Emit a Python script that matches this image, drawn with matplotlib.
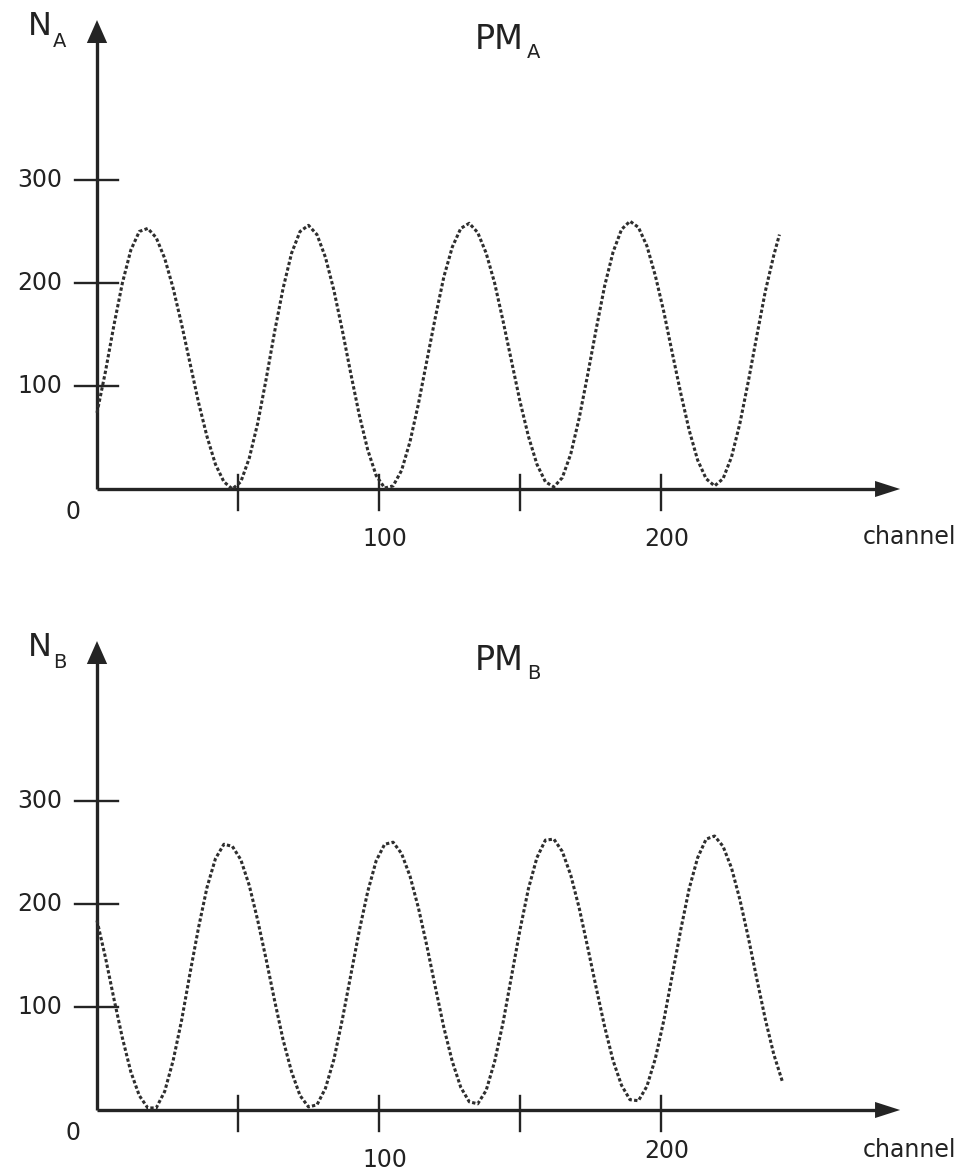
import matplotlib
matplotlib.use('Agg')
import matplotlib.pyplot as plt

# ---------------- data ----------------
top_channel = [0, 3, 6, 9, 12, 15, 18, 21, 24, 27, 30, 33, 36, 39, 42, 45, 48, 51, 54, 57,
               60, 63, 66, 69, 72, 75, 78, 81, 84, 87, 90, 93, 96, 99, 102, 105, 108, 111, 114, 117,
               120, 123, 126, 129, 132, 135, 138, 141, 144, 147, 150, 153, 156, 159, 162, 165, 168, 171, 174, 177,
               180, 183, 186, 189, 192, 195, 198, 201, 204, 207, 210, 213, 216, 219, 222, 225, 228, 231, 234, 237,
               240, 242]
top_counts = [74, 114, 159, 200, 232, 250, 253, 244, 224, 195, 160, 122, 84, 51, 24, 7, 0, 7, 30, 64,
              107, 153, 195, 229, 250, 256, 247, 225, 193, 154, 112, 72, 38, 13, 1, 3, 18, 46, 83, 125,
              167, 206, 235, 253, 258, 249, 229, 200, 163, 124, 85, 51, 24, 7, 2, 11, 34, 69, 111, 155,
              197, 230, 252, 260, 254, 236, 207, 172, 132, 93, 57, 28, 10, 3, 10, 31, 64, 105, 149, 192,
              227, 247]

bottom_channel = [0, 3, 6, 9, 12, 15, 18, 21, 24, 27, 30, 33, 36, 39, 42, 45, 48, 51, 54, 57,
                  60, 63, 66, 69, 72, 75, 78, 81, 84, 87, 90, 93, 96, 99, 102, 105, 108, 111, 114, 117,
                  120, 123, 126, 129, 132, 135, 138, 141, 144, 147, 150, 153, 156, 159, 162, 165, 168, 171, 174, 177,
                  180, 183, 186, 189, 192, 195, 198, 201, 204, 207, 210, 213, 216, 219, 222, 225, 228, 231, 234, 237,
                  240, 243]
bottom_counts = [184, 148, 108, 70, 37, 14, 2, 2, 18, 48, 87, 133, 177, 216, 244, 258, 256, 243, 218, 184,
                 146, 106, 68, 37, 14, 3, 5, 21, 49, 88, 131, 174, 212, 242, 258, 260, 249, 227, 196, 159,
                 119, 80, 47, 22, 8, 6, 19, 47, 85, 130, 175, 215, 245, 262, 263, 251, 228, 196, 158, 119,
                 81, 48, 24, 10, 9, 23, 50, 87, 131, 175, 215, 245, 263, 266, 256, 235, 204, 167, 127, 88,
                 54, 28]

y_ticks = [100, 200, 300]
y_tick_labels = ['100', '200', '300']
x_ticks = [50, 100, 150, 200]
x_label_ticks = [100, 200]
x_label_texts = ['100', '200']
panel_letters = ['A', 'B']
x_axis_label = 'channel'

# ---------------- layout ----------------
W, H = 963, 1173
PX_X = 2.82   # pixels per channel
PX_Y = 1.03   # pixels per count
ORIGIN_COL = 97
AXIS_COLOR = '#242424'
CURVE_COLOR = '#2e2e2e'
TEXT_COLOR = '#222222'

fig = plt.figure(figsize=(W / 100, H / 100), dpi=100)
fig.patch.set_facecolor('white')

panels = [
    dict(letter=panel_letters[0], ch=top_channel, counts=top_counts,
         origin_row=489, row_top=0, row_bot=600, xlab_y=[-49, -49], chan_y=-47),
    dict(letter=panel_letters[1], ch=bottom_channel, counts=bottom_counts,
         origin_row=1110, row_top=600, row_bot=H, xlab_y=[-49, -40], chan_y=-39),
]

for p in panels:
    ax = fig.add_axes([0, 1 - p['row_bot'] / H, 1, (p['row_bot'] - p['row_top']) / H])
    ax.set_xlim(-ORIGIN_COL / PX_X, (W - ORIGIN_COL) / PX_X)
    ax.set_ylim((p['origin_row'] - p['row_bot']) / PX_Y, (p['origin_row'] - p['row_top']) / PX_Y)
    ax.axis('off')

    # curve
    ax.plot(p['ch'], p['counts'], color=CURVE_COLOR, lw=2.2,
            linestyle=(0, (1.1, 0.75)), dash_capstyle='butt', zorder=3)

    # axes with arrows
    y_tip = 455.3
    x_tip = 284.8
    ax.plot([0, 0], [0, y_tip - 15], color=AXIS_COLOR, lw=2.4, solid_capstyle='butt', zorder=2)
    ax.plot([0, x_tip - 6], [0, 0], color=AXIS_COLOR, lw=2.4, solid_capstyle='butt', zorder=2)
    ax.fill([-3.6, 3.6, 0], [y_tip - 22.3, y_tip - 22.3, y_tip], color=AXIS_COLOR, lw=0, zorder=2)
    ax.fill([x_tip - 8.9, x_tip - 8.9, x_tip], [-7.8, 7.8, 0], color=AXIS_COLOR, lw=0, zorder=2)

    # ticks
    for yt, lab in zip(y_ticks, y_tick_labels):
        ax.plot([-7.8, 7.4], [yt, yt], color=AXIS_COLOR, lw=1.7, zorder=2)
        ax.text(-12.4, yt, lab, ha='right', va='center', fontsize=17, color=TEXT_COLOR)
    for xt in x_ticks:
        ax.plot([xt, xt], [-20.4, 13.6], color=AXIS_COLOR, lw=1.7, zorder=2)
    for xt, lab, yy in zip(x_label_ticks, x_label_texts, p['xlab_y']):
        ax.text(xt + 2, yy, lab, ha='center', va='center', fontsize=17, color=TEXT_COLOR)
    ax.text(-8.5, -22, '0', ha='center', va='center', fontsize=17, color=TEXT_COLOR)
    ax.text(288, p['chan_y'], x_axis_label, ha='center', va='center', fontsize=17, color=TEXT_COLOR)

    # axis name N_X
    ax.text(-24.5, 440.8, 'N', ha='left', va='baseline', fontsize=23, color=TEXT_COLOR)
    ax.text(-15.5, 429.1, p['letter'], ha='left', va='baseline', fontsize=14, color=TEXT_COLOR)
    # title PM_X
    ax.text(134.0, 427.2, 'PM', ha='left', va='baseline', fontsize=24, color=TEXT_COLOR)
    ax.text(152.5, 418.4, p['letter'], ha='left', va='baseline', fontsize=14, color=TEXT_COLOR)

fig.savefig('out.png', dpi=100, facecolor='white')
